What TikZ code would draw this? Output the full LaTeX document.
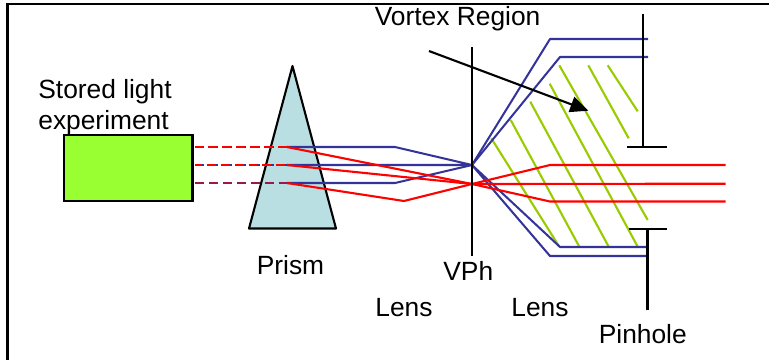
\documentclass[tikz,border=0pt]{standalone}
\usepackage{fontspec}
\setmainfont{Liberation Sans}
\usetikzlibrary{arrows.meta}
\definecolor{beamblue}{HTML}{333399}
\definecolor{beamred}{HTML}{FF0000}
\definecolor{boxgreen}{HTML}{99FF33}
\definecolor{hatchgreen}{HTML}{99CC00}
\definecolor{prismblue}{HTML}{B9DFE3}
\tikzset{
  label/.style={inner sep=0pt, font=\fontsize{15}{18}\selectfont, anchor=base west},
  blueray/.style={beamblue, line width=1.15pt, line join=round},
  redray/.style={beamred, line width=1.2pt, line join=round},
  dashray/.style={line width=1.2pt, dash pattern=on 5.1pt off 2.84pt},
  screen/.style={black, line width=1.15pt}
}
\begin{document}
\begin{tikzpicture}[x=0.02cm, y=-0.02cm]
  \useasboundingbox (0,0) rectangle (769,360);
  \draw[line width=1.4pt] (7.5,360)--(7.5,4)--(769,4);
  \node[draw, line width=1.3pt, fill=boxgreen, inner sep=0pt, minimum width=2.57cm, minimum height=1.32cm] (source) at (128.2,168) {};
  \coordinate (apex) at (292.5,66); \coordinate (baseL) at (249,228.5); \coordinate (baseR) at (336,228.5);
  \draw[line width=1.2pt, fill=prismblue, line join=round] (apex)--(baseL)--(baseR)--cycle;
  \coordinate (d1) at (195,147); \coordinate (d2) at (195,165); \coordinate (d3) at (195,183);
  \coordinate (e1) at (300,147); \coordinate (e2) at (288,165); \coordinate (e3) at (287,183);
  \coordinate (p1) at (287,147); \coordinate (p2) at (287,165); \coordinate (p3) at (287,183);
  \coordinate (bl1) at (395,147); \coordinate (bl3) at (395,183); \coordinate (rl3) at (404,201);
  \coordinate (vortex) at (472,165); \coordinate (focus) at (472,184);
  \coordinate (bu1) at (550,39); \coordinate (bu2) at (560,57); \coordinate (bd1) at (560,247); \coordinate (bd2) at (550,256);
  \coordinate (bue1) at (648,39); \coordinate (bue2) at (648,57); \coordinate (bde1) at (648,247); \coordinate (bde2) at (648,256);
  \coordinate (ru) at (550,165); \coordinate (rd) at (550,201.5);
  \coordinate (rue) at (725.5,165); \coordinate (rme) at (725.5,183.7); \coordinate (rde) at (725.5,201.5);
  \foreach \xa/\ya/\xb/\yb in {607.7/65.3/637.7/111.3, 588.3/65.3/628.7/138.3, 559.3/65.3/647.7/220, 549.7/83.7/637.7/246.7, 530.3/101.7/608.7/246.7, 510.7/120/579.3/246.7, 491.3/138.3/559.3/246.7}{
    \draw[hatchgreen, line width=1.2pt] (\xa,\ya)--(\xb,\yb);
  }
  \draw[beamblue, dashray] (d1)--(e1); \draw[beamred, dashray, dash phase=0.5pt] (d1)--(e1);
  \draw[beamblue, dashray] (d2)--(e2); \draw[beamred, dashray, dash phase=1.3pt] (d2)--(e2);
  \draw[beamblue, dashray] (d3)--(e3); \draw[beamred, dashray, opacity=0.5] (d3)--(e3);
  \draw[blueray] (p1)--(bl1)--(vortex)--(p2);
  \draw[blueray] (p3)--(bl3)--(vortex);
  \draw[blueray] (vortex)--(bu1)--(bue1); \draw[blueray] (vortex)--(bu2)--(bue2);
  \draw[blueray] (vortex)--(bd1)--(bde1); \draw[blueray] (vortex)--(bd2)--(bde2);
  \draw[redray] (p1)--(focus)--(rd)--(rde);
  \draw[redray] (p2)--(focus)--(rme);
  \draw[redray] (p3)--(rl3)--(focus)--(ru)--(rue);
  \coordinate (vphT) at (472,47); \coordinate (vphB) at (472,256);
  \draw[screen] (vphT)--(vphB);
  \coordinate (pinT) at (643,14); \coordinate (pinTa) at (643,147); \coordinate (pinTl) at (627,147); \coordinate (pinTr) at (667,147);
  \coordinate (pinB) at (647.5,310); \coordinate (pinBa) at (647.5,229); \coordinate (pinBl) at (629,229); \coordinate (pinBr) at (667,229);
  \draw[screen] (pinT)--(pinTa); \draw[screen] (pinTl)--(pinTr);
  \draw[screen] (pinB)--(pinBa); \draw[screen] (pinBl)--(pinBr);
  \coordinate (arrowS) at (429,51); \coordinate (arrowE) at (588.3,110.7);
  \draw[line width=1.2pt, -{Triangle[length=0.36cm, width=0.32cm]}] (arrowS)--(arrowE);
  \node[label] (vortexlabel) at (374.5,25) {Vortex Region};
  \node[label] (storedlabel) at (38,98) {Stored light};
  \node[label] (explabel) at (38,129) {experiment};
  \node[label] (prismlabel) at (256.5,274) {Prism};
  \node[label] (vphlabel) at (443,280) {VPh};
  \node[label] (lensA) at (375,316) {Lens};
  \node[label] (lensB) at (511,316) {Lens};
  \node[label] (pinlabel) at (598.5,343) {Pinhole};
\end{tikzpicture}
\end{document}
